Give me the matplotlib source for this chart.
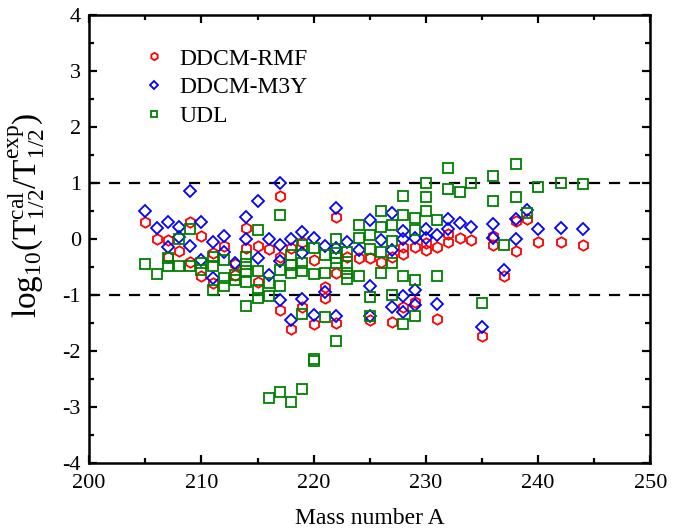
import matplotlib
matplotlib.use("Agg")
import matplotlib.pyplot as plt
from matplotlib.ticker import MultipleLocator

plt.rcParams['font.family'] = ['Liberation Serif', 'DejaVu Serif']
plt.rcParams['mathtext.fontset'] = 'custom'
plt.rcParams['mathtext.rm'] = 'Liberation Serif'
plt.rcParams['mathtext.it'] = 'Liberation Serif:italic'
plt.rcParams['axes.unicode_minus'] = False

# DDCM-RMF (red hexagons)
rmf_A = [205, 206, 207, 207, 208, 209, 209, 210, 210, 211, 211, 212, 213, 213,
         214, 214, 215, 215, 216, 217, 217, 217, 218, 218, 219, 219, 220, 220,
         221, 221, 222, 222, 222, 223, 224, 225, 225, 226, 227, 227, 228, 228,
         228, 229, 229, 230, 230, 231, 231, 232, 232, 233, 234, 235, 236, 236,
         237, 238, 238, 239, 240, 242, 244]
rmf_v = [0.30, 0.00, -0.02, -0.32, -0.21, 0.30, -0.41, 0.06, -0.67, -0.25, -0.79,
         -0.12, -0.64, -0.45, 0.19, -0.16, -0.12, -0.76, -0.18, 0.77, -0.32, -1.27,
         -0.16, -1.61, -0.05, -1.21, -0.37, -1.52, -0.85, -1.06, 0.39, -0.61, -1.50,
         -0.32, -0.34, -0.34, -1.45, -0.41, -0.32, -1.48, -0.14, -0.27, -1.21,
         -0.14, -1.12, -0.07, -0.20, -0.14, -1.43, 0.09, -0.05, 0.01, -0.02, -1.74,
         0.05, -0.10, -0.67, 0.32, -0.21, 0.36, -0.05, -0.05, -0.11]

# DDCM-M3Y (blue diamonds)
m3y_A = [205, 206, 207, 207, 208, 208, 209, 209, 210, 210, 211, 211, 212, 212,
         213, 214, 214, 215, 215, 216, 216, 217, 217, 217, 217, 218, 218, 219,
         219, 219, 220, 220, 221, 221, 222, 222, 222, 223, 224, 225, 225, 225,
         226, 227, 227, 227, 228, 228, 228, 228, 229, 229, 229, 230, 230, 231,
         231, 232, 232, 233, 234, 235, 236, 236, 237, 238, 238, 239, 240, 242, 244]
m3y_v = [0.49, 0.20, 0.30, -0.14, 0.21, 0.03, 0.86, -0.12, 0.30, -0.38, -0.05,
         -0.70, 0.05, -0.23, -0.43, 0.40, 0.00, 0.68, -0.34, 0.00, -0.64, 1.00,
         -0.11, -0.40, -1.09, 0.00, -1.45, 0.12, -0.25, -1.07, 0.02, -1.36, -0.12,
         -0.94, 0.55, -0.16, -1.37, -0.05, -0.20, 0.33, -0.84, -1.37, -0.02, 0.46,
         -0.20, -1.21, 0.14, 0.00, -1.01, -1.30, 0.02, -0.91, -1.18, 0.18, 0.02,
         0.07, -1.17, 0.35, 0.18, 0.28, 0.21, -1.58, 0.27, 0.01, -0.55, 0.36, 0.00,
         0.51, 0.18, 0.20, 0.17]

# UDL (green squares)
udl_A = [205, 206, 207, 207, 208, 208, 209, 209, 210, 210, 211, 211, 211, 212,
         212, 212, 213, 213, 214, 214, 214, 214, 214, 215, 215, 215, 215, 216,
         216, 216, 217, 217, 217, 217, 218, 218, 218, 218, 219, 219, 219, 219,
         219, 220, 220, 220, 220, 221, 221, 221, 222, 222, 222, 222, 222, 223,
         223, 223, 223, 224, 224, 224, 225, 225, 225, 225, 226, 226, 226, 226,
         227, 227, 227, 227, 228, 228, 228, 228, 229, 229, 229, 229, 230, 230,
         230, 231, 231, 232, 232, 233, 234, 235, 236, 236, 237, 238, 238, 239,
         240, 242, 244]
udl_v = [-0.45, -0.63, -0.34, -0.48, 0.00, -0.48, 0.17, -0.48, -0.43, -0.56,
         -0.32, -0.49, -0.91, -0.37, -0.69, -0.84, -0.64, -0.73, -0.32, -0.45,
         -0.58, -0.76, -1.19, 0.16, -0.57, -0.91, -1.06, -0.79, -1.01, -2.84,
         0.43, -0.55, -0.84, -2.74, -0.29, -0.46, -0.61, -2.91, -0.10, -0.43,
         -0.57, -1.34, -2.68, -0.16, -0.63, -2.14, -2.18, -0.29, -0.61, -1.39,
         0.00, -0.25, -0.34, -0.43, -1.83, -0.23, -0.49, -0.61, -0.72, 0.25, 0.02,
         -0.67, 0.07, -0.18, -1.03, -1.37, 0.49, 0.21, -0.23, -0.60, 0.25, -0.04,
         -0.43, -1.00, 0.76, 0.42, -0.67, -1.52, 0.37, 0.16, -0.73, -1.37, 0.99,
         0.74, 0.49, 0.33, -0.67, 1.26, 0.89, 0.83, 0.99, -1.15, 1.13, 0.68, -0.10,
         1.33, 0.74, 0.46, 0.92, 0.99, 0.98]

ref_lines = [1, -1]

fig = plt.figure(figsize=(6.86, 5.31), dpi=100)
ax = fig.add_axes([0.130, 0.128, 0.818, 0.844])

for yv in ref_lines:
    ax.axhline(yv, color='black', lw=1.6, ls=(0, (5, 4)), zorder=1)

ax.plot(rmf_A, rmf_v, ls='none', marker='h', ms=7.5, mfc='none', mec='#ff0000',
        mew=1.3, label='DDCM-RMF', zorder=2)
ax.plot(m3y_A, m3y_v, ls='none', marker='D', ms=6.5, mfc='none', mec='#0000ff',
        mew=1.3, label='DDCM-M3Y', zorder=3)
ax.plot(udl_A, udl_v, ls='none', marker='s', ms=6.5, mfc='none', mec='#008000',
        mew=1.3, label='UDL', zorder=4)

ax.set_xlim(200, 250)
ax.set_ylim(-4, 4)
ax.xaxis.set_major_locator(MultipleLocator(10))
ax.xaxis.set_minor_locator(MultipleLocator(5))
ax.yaxis.set_major_locator(MultipleLocator(1))
ax.yaxis.set_minor_locator(MultipleLocator(0.5))
ax.tick_params(which='both', direction='in', top=True, right=True, width=1.6)
ax.tick_params(which='major', length=6, labelsize=16)
ax.tick_params(axis='x', which='major', pad=8)
ax.tick_params(axis='y', which='major', pad=6)
ax.tick_params(which='minor', length=3.5)
for sp in ax.spines.values():
    sp.set_linewidth(1.8)

ax.set_xlabel('Mass number A', fontsize=17, labelpad=11)
ax.set_ylabel(r'log$_{10}$(T$^{\rm cal}_{1/2}$/T$^{\rm exp}_{1/2}$)', fontsize=24)
ax.yaxis.set_label_coords(-0.075, 0.553)

leg = ax.legend(loc='upper left', bbox_to_anchor=(0.052, 0.973), frameon=False,
                fontsize=17, markerscale=0.7, handletextpad=0.5, labelspacing=0.3,
                handlelength=1.2)

fig.savefig('out.png', dpi=100)
